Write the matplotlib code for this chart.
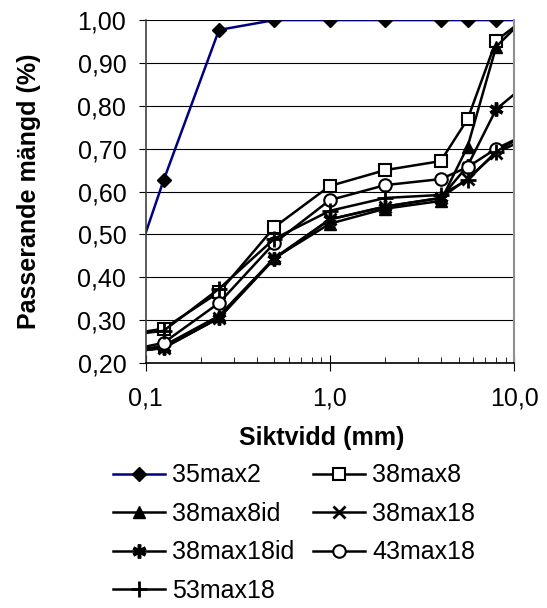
import matplotlib
matplotlib.use("Agg")
import matplotlib.pyplot as plt
from matplotlib.ticker import FuncFormatter, LogLocator, MultipleLocator

plt.rcParams["font.family"] = ["Liberation Sans", "DejaVu Sans"]

# sieve sizes (mm); first and last points lie outside the visible axis range
sieves = [0.063, 0.125, 0.25, 0.5, 1, 2, 4, 5.6, 8, 11.2]

s35max2 = [0.25, 0.626, 0.977, 1.0, 1.0, 1.0, 1.0, 1.0, 1.0, 1.0]
s38max8 = [0.26, 0.28, 0.365, 0.517, 0.613, 0.650, 0.671, 0.769, 0.952, 1.0]
s38max8id = [0.22, 0.24, 0.31, 0.445, 0.525, 0.56, 0.578, 0.705, 0.938, 1.0]
s38max18 = [0.22, 0.235, 0.305, 0.445, 0.535, 0.565, 0.585, 0.63, 0.69, 0.72]
s38max18id = [0.22, 0.235, 0.305, 0.443, 0.535, 0.565, 0.585, 0.66, 0.792, 0.844]
s43max18 = [0.22, 0.247, 0.34, 0.48, 0.58, 0.615, 0.629, 0.657, 0.70, 0.73]
s53max18 = [0.26, 0.275, 0.373, 0.49, 0.555, 0.585, 0.592, 0.627, 0.693, 0.73]

fig = plt.figure(figsize=(5.47, 6.08), dpi=100)
ax = fig.add_axes([0.2664, 0.403, 0.6733, 0.564])

lw = 1.8
ax.plot(sieves, s35max2, color="#000080", lw=lw, marker="D", ms=7.5,
        mfc="black", mec="black", label="35max2")
ax.plot(sieves, s38max8, color="black", lw=lw, marker="s", ms=9,
        mfc="white", mec="black", mew=1.5, label="38max8")
ax.plot(sieves, s38max8id, color="black", lw=lw, marker="^", ms=9,
        mfc="black", mec="black", label="38max8id")
ax.plot(sieves, s38max18, color="black", lw=lw, marker="x", ms=9,
        mec="black", mew=2, label="38max18")
ax.plot(sieves, s38max18id, color="black", lw=lw, marker=(6, 2, 0), ms=10,
        mec="black", mew=2.5, label="38max18id")
ax.plot(sieves, s43max18, color="black", lw=lw, marker="o", ms=9,
        mfc="white", mec="black", mew=1.5, label="43max18")
ax.plot(sieves, s53max18, color="black", lw=lw, marker="+", ms=12,
        mec="black", mew=2, label="53max18")

ax.set_xscale("log")
ax.set_xlim(0.1, 10)
ax.set_ylim(0.2, 1.0)

ax.yaxis.set_major_locator(MultipleLocator(0.1))
ax.yaxis.set_major_formatter(FuncFormatter(lambda v, p: f"{v:.2f}".replace(".", ",")))
ax.xaxis.set_major_locator(LogLocator(base=10))
ax.xaxis.set_minor_locator(LogLocator(base=10, subs=range(2, 10)))
ax.xaxis.set_major_formatter(FuncFormatter(lambda v, p: f"{v:.1f}".replace(".", ",")))
ax.xaxis.set_minor_formatter(FuncFormatter(lambda v, p: ""))

ax.grid(axis="y", color="black", lw=0.8)
ax.set_axisbelow(True)

ax.spines["top"].set_visible(False)
ax.spines["right"].set_color("#909090")
ax.spines["right"].set_linewidth(1.5)
ax.spines["left"].set_color("#404040")
ax.spines["left"].set_linewidth(1.2)
ax.spines["bottom"].set_linewidth(1.2)

ax.tick_params(axis="y", direction="out", length=5, labelsize=18, pad=9)
ax.tick_params(axis="x", which="major", direction="inout", length=12, labelsize=18, pad=11)
ax.tick_params(axis="x", which="minor", direction="in", length=4)

ax.set_ylabel("Passerande mängd (%)", fontsize=18, fontweight="bold")
ax.yaxis.set_label_coords(-0.284, 0.5)
ax.set_xlabel("Siktvidd (mm)", fontsize=18, fontweight="bold")
ax.xaxis.set_label_coords(0.479, -0.184)

handles, labels = ax.get_legend_handles_labels()
order = [0, 2, 4, 6, 1, 3, 5]
fig.legend([handles[i] for i in order], [labels[i] for i in order],
           loc="upper left", bbox_to_anchor=(0.2066, 0.238), ncol=2,
           frameon=False, fontsize=18, borderpad=0, borderaxespad=0,
           handlelength=2.08, handletextpad=0.28, columnspacing=0.76,
           labelspacing=0.58)

fig.savefig("out.png", dpi=100)
